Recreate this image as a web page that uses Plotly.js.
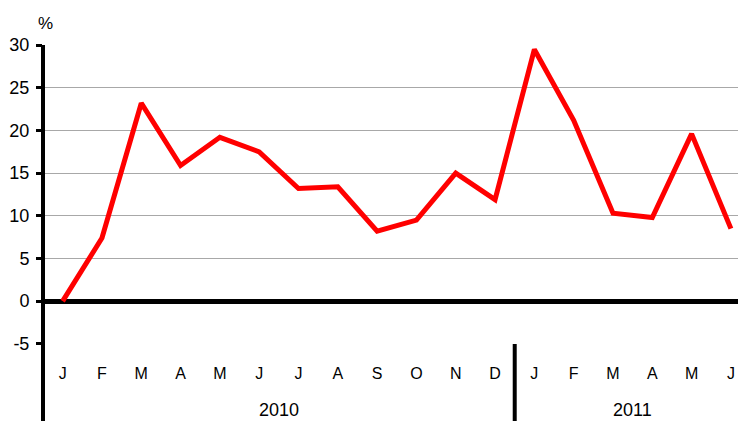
<!DOCTYPE html>
<html>
<head>
<meta charset="utf-8">
<script src="https://cdn.plot.ly/plotly-3.0.1.min.js"></script>
<style>html,body{margin:0;padding:0;background:#fff;}#chart{width:738px;height:421px;}</style>
</head>
<body>
<div id="chart"></div>
<script>
const monthLabels = ["J","F","M","A","M","J","J","A","S","O","N","D","J","F","M","A","M","J"];
const values = [0, 7.4, 23.2, 15.9, 19.2, 17.5, 13.2, 13.4, 8.2, 9.5, 15.0, 11.9, 29.5, 21.2, 10.3, 9.8, 19.6, 8.5];
const years = ["2010", "2011"];
const yearCenters = [5.5, 14.5];
const yearSplit = 11.5;
const yTicks = [-5, 0, 5, 10, 15, 20, 25, 30];
const yTickText = ["-5", "0", "5", "10", "15", "20", "25", "30"];

const xIdx = monthLabels.map((_, i) => i);
const xRange = [-0.5, 17.18];
const font = "Liberation Sans, Arial, sans-serif";

const trace = {
  x: xIdx, y: values, type: "scatter", mode: "lines",
  line: {color: "#ff0000", width: 5}, hoverinfo: "skip", cliponaxis: false
};

const toPaper = v => (v - xRange[0]) / (xRange[1] - xRange[0]);

const layout = {
  width: 738, height: 421,
  margin: {l: 43, r: 0, t: 45, b: 77},
  paper_bgcolor: "#ffffff", plot_bgcolor: "#ffffff",
  showlegend: false,
  font: {family: font, size: 16, color: "#000"},
  xaxis: {
    range: xRange, tickmode: "array", tickvals: xIdx, ticktext: monthLabels,
    showgrid: false, zeroline: false, showline: false, ticks: "",
    ticklabelstandoff: 18, tickfont: {family: font, size: 16, color: "#000"}
  },
  yaxis: {
    range: [-5.02, 30.02], tickmode: "array", tickvals: yTicks, ticktext: yTickText,
    showgrid: true, gridcolor: "#a8a8a8", gridwidth: 1,
    zeroline: true, zerolinecolor: "#000", zerolinewidth: 5,
    showline: false, ticks: "outside", ticklen: 6, tickwidth: 3, tickcolor: "#000",
    ticklabelstandoff: 3,
    tickfont: {family: font, size: 18, color: "#000"}
  },
  shapes: [
    {type: "line", xref: "paper", yref: "paper", x0: 0, x1: 0, y0: -0.3, y1: 1.0, line: {color: "#000", width: 4}},
    {type: "line", xref: "paper", yref: "paper", x0: toPaper(yearSplit), x1: toPaper(yearSplit), y0: -0.3, y1: 0.0, line: {color: "#000", width: 4}}
  ],
  annotations: [
    {xref: "paper", yref: "paper", x: 0, y: 1, xshift: -7, yshift: 33, text: "%", showarrow: false, font: {family: font, size: 17, color: "#000"}},
    ...years.map((t, i) => ({xref: "x", yref: "paper", x: yearCenters[i], y: 0, yanchor: "middle", yshift: -66, text: t, showarrow: false, font: {family: font, size: 18, color: "#000"}}))
  ]
};

Plotly.newPlot("chart", [trace], layout, {displayModeBar: false, staticPlot: true});
</script>
</body>
</html>
